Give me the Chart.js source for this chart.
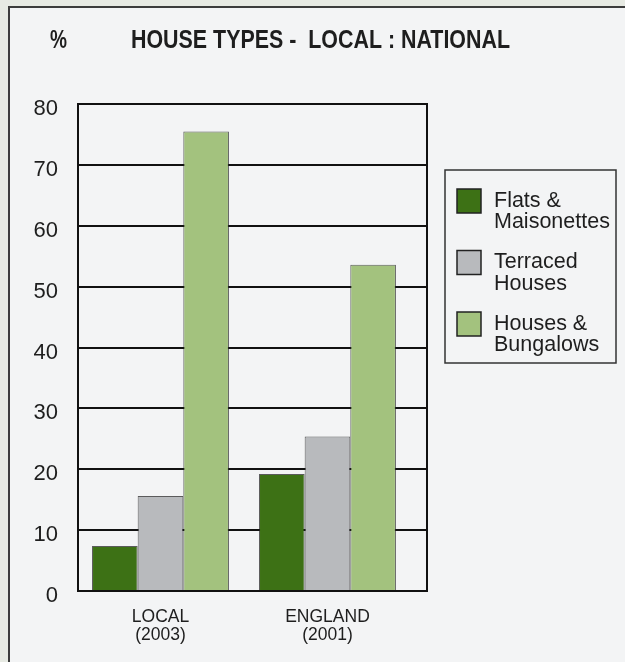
<!DOCTYPE html>
<html>
<head>
<meta charset="utf-8">
<title>House Types - Local : National</title>
<script src="https://cdn.jsdelivr.net/npm/chart.js@4.4.1/dist/chart.umd.min.js"></script>
<style>
  html, body { margin: 0; padding: 0; }
  body { width: 625px; height: 662px; background: #e7eae3; position: relative; overflow: hidden; }
  #frame {
    position: absolute; left: 8px; top: 6px; width: 640px; height: 680px;
    background: #f3f4f5;
    border-left: 2px solid #3c3c3c; border-top: 2px solid #3c3c3c;
  }
  #graf { position: absolute; left: 0; top: 0; }
</style>
</head>
<body>
<div id="frame"></div>
<canvas id="graf" width="625" height="662"></canvas>
<script>
// categories along the bottom, one array of lines per label
var categories = [['LOCAL', '(2003)'], ['ENGLAND', '(2001)']];
var seriesNames = ['Flats & Maisonettes', 'Terraced Houses', 'Houses & Bungalows'];
var flats = [7.4, 19.2];
var terraced = [15.6, 25.4];
var houses = [75.5, 53.6];
var yTicks = [0, 10, 20, 30, 40, 50, 60, 70, 80];
var seriesColors = ['#3d7115', '#b8babd', '#a3c27e'];

var seriesValues = [flats, terraced, houses];
var TEXT = '#1e1e1e';
var FONT = '"Liberation Sans", Arial, Helvetica, sans-serif';

// fill text squeezed to a given width (condensed heading look)
function fitText(ctx, text, x, y, width) {
    var w = ctx.measureText(text).width;
    ctx.save();
    ctx.translate(x, y);
    ctx.scale(width / w, 1);
    ctx.fillText(text, 0, 0);
    ctx.restore();
}

var headings = {
    id: 'headings',
    afterDraw: function(chart) {
        var ctx = chart.ctx;
        ctx.save();
        ctx.fillStyle = TEXT;
        ctx.textBaseline = 'alphabetic';
        ctx.textAlign = 'left';
        ctx.font = 'bold 25px ' + FONT;
        fitText(ctx, '%', 50, 48, 17);
        fitText(ctx, 'HOUSE TYPES -  LOCAL : NATIONAL', 131, 48, 379);
        ctx.restore();
    }
};

// plot box: top and right edges to close the frame
var plotBox = {
    id: 'plotBox',
    afterDatasetsDraw: function(chart) {
        var a = chart.chartArea, ctx = chart.ctx;
        ctx.save();
        ctx.strokeStyle = '#111';
        ctx.lineWidth = 2;
        ctx.strokeRect(a.left, a.top, a.right - a.left, a.bottom - a.top);
        ctx.restore();
    }
};

// boxed legend on the right, labels broken onto two lines
var sideLegend = {
    id: 'sideLegend',
    afterDraw: function(chart) {
        var ctx = chart.ctx;
        var bx = 445, by = 170, bw = 171, bh = 193;
        ctx.save();
        ctx.strokeStyle = '#333';
        ctx.lineWidth = 1.5;
        ctx.strokeRect(bx, by, bw, bh);
        ctx.font = '21.5px ' + FONT;
        ctx.textBaseline = 'alphabetic';
        chart.data.datasets.forEach(function(ds, i) {
            var top = 189 + i * 61.5;
            ctx.fillStyle = ds.backgroundColor;
            ctx.fillRect(457, top, 24, 24);
            ctx.strokeStyle = '#222';
            ctx.lineWidth = 1.5;
            ctx.strokeRect(457, top, 24, 24);
            var cut = ds.label.lastIndexOf(' ');
            var lines = [ds.label.slice(0, cut), ds.label.slice(cut + 1)];
            ctx.fillStyle = TEXT;
            lines.forEach(function(t, j) {
                ctx.fillText(t, 494, top + 17.5 + j * 21.5);
            });
        });
        ctx.restore();
    }
};

var datasets = seriesNames.map(function(name, i) {
    return {
        label: name,
        data: seriesValues[i].map(function(v, k) { return { x: k, y: v }; }),
        backgroundColor: seriesColors[i],
        borderColor: 'rgba(40,40,40,0.75)',
        borderWidth: 1,
        barPercentage: 1,
        categoryPercentage: 0.82
    };
});

var ctx = document.getElementById('graf').getContext('2d');
var graf = new Chart(ctx, {
    type: 'bar',
    data: { datasets: datasets },
    options: {
        responsive: false,
        animation: false,
        layout: { padding: { left: 0, right: 198, top: 104, bottom: 0 } },
        plugins: {
            legend: { display: false },
            tooltip: { enabled: false }
        },
        scales: {
            x: {
                type: 'linear',
                offset: false,
                min: -0.494,
                max: 1.596,
                grid: { display: false, drawTicks: false, offset: false },
                border: { display: true, color: '#111', width: 2 },
                afterBuildTicks: function(scale) {
                    scale.ticks = categories.map(function(c, i) { return { value: i }; });
                },
                afterFit: function(scale) { scale.height = 71; },
                ticks: {
                    color: TEXT,
                    font: { family: FONT, size: 17.5, lineHeight: 1.05 },
                    padding: 17,
                    maxRotation: 0,
                    callback: function(v) { return categories[v]; }
                }
            },
            y: {
                min: 0,
                max: 80,
                afterBuildTicks: function(scale) {
                    scale.ticks = yTicks.map(function(v) { return { value: v }; });
                },
                afterFit: function(scale) { scale.width = 78; },
                grid: { color: '#111', lineWidth: 2, drawTicks: false },
                border: { display: true, color: '#111', width: 2 },
                ticks: {
                    color: TEXT,
                    font: { family: FONT, size: 22 },
                    padding: 20,
                    labelOffset: 5
                }
            }
        }
    },
    plugins: [headings, plotBox, sideLegend]
});
</script>
</body>
</html>
